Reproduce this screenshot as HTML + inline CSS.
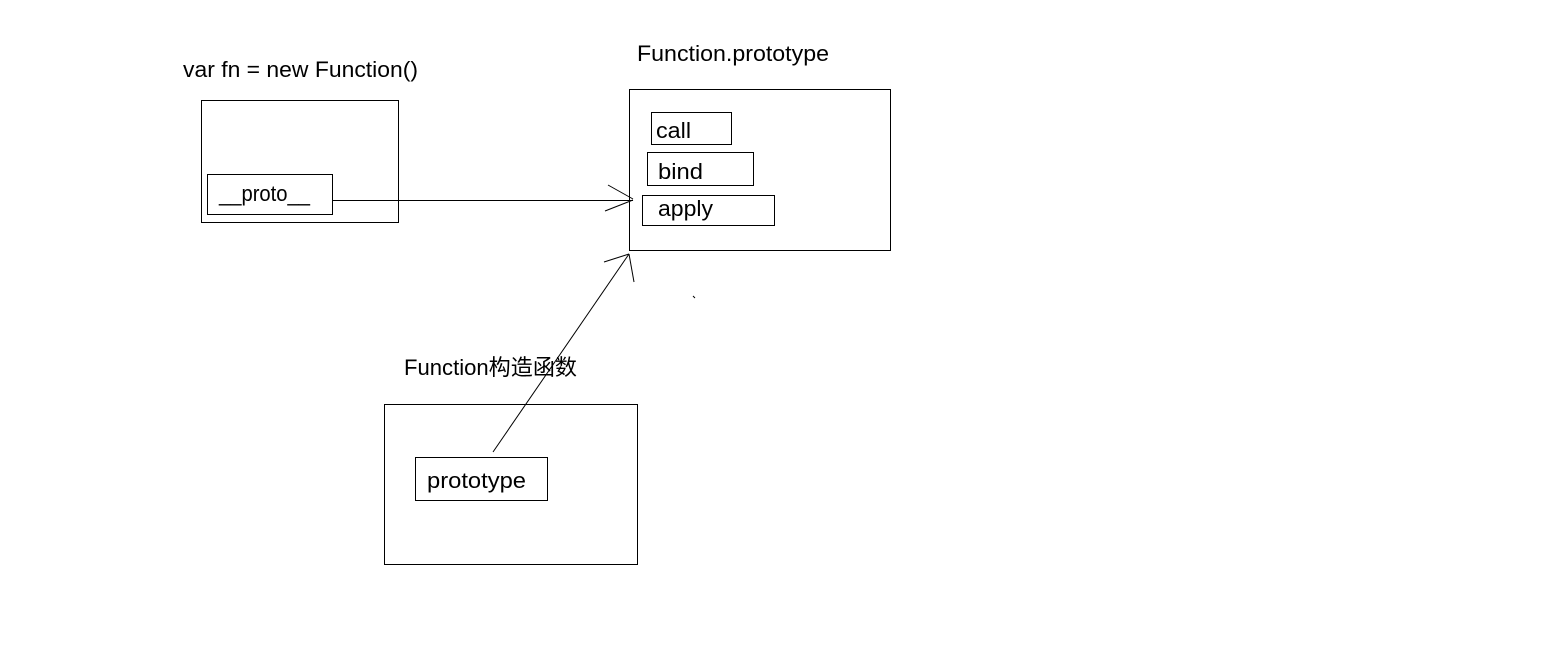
<!DOCTYPE html>
<html><head><meta charset="utf-8"><style>
html,body{margin:0;padding:0;background:#fff;}
body{width:1543px;height:654px;overflow:hidden;}
svg text{font-family:"Liberation Sans","Noto Sans CJK SC",sans-serif;font-size:22px;fill:#000;}
</style></head><body>
<svg width="1543" height="654" xmlns="http://www.w3.org/2000/svg">
<g fill="none" stroke="#000" stroke-width="1">
<rect x="201.5" y="100.5" width="197" height="122"/>
<rect x="207.5" y="174.5" width="125" height="40"/>
<rect x="629.5" y="89.5" width="261" height="161"/>
<rect x="651.5" y="112.5" width="80" height="32"/>
<rect x="647.5" y="152.5" width="106" height="33"/>
<rect x="642.5" y="195.5" width="132" height="30"/>
<rect x="384.5" y="404.5" width="253" height="160"/>
<rect x="415.5" y="457.5" width="132" height="43"/>
<line x1="333" y1="200.5" x2="633" y2="200.5"/>
<line x1="608" y1="185" x2="633" y2="199"/>
<line x1="605" y1="211" x2="633" y2="200"/>
<line x1="493" y1="452" x2="629" y2="254"/>
<line x1="604" y1="262" x2="629" y2="254"/>
<line x1="629" y1="254" x2="634" y2="282"/>
<line x1="693" y1="296" x2="695" y2="298"/>
</g>
<text x="183" y="77" textLength="235" lengthAdjust="spacingAndGlyphs">var fn = new Function()</text>
<text x="637" y="61" textLength="192" lengthAdjust="spacingAndGlyphs">Function.prototype</text>
<text x="219" y="201" textLength="91" lengthAdjust="spacingAndGlyphs">__proto__</text>
<text x="656" y="138" textLength="35" lengthAdjust="spacingAndGlyphs">call</text>
<text x="658" y="179" textLength="45" lengthAdjust="spacingAndGlyphs">bind</text>
<text x="658" y="216" textLength="55" lengthAdjust="spacingAndGlyphs">apply</text>
<text x="404" y="375" textLength="173" lengthAdjust="spacingAndGlyphs">Function构造函数</text>
<text x="427" y="488" textLength="99" lengthAdjust="spacingAndGlyphs">prototype</text>
</svg>
</body></html>
